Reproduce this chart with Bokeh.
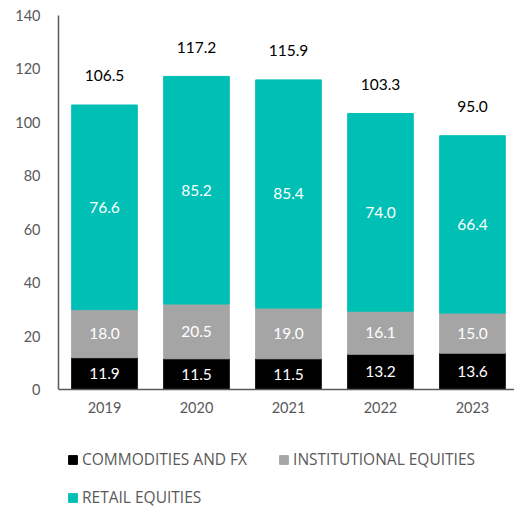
from bokeh.plotting import figure
from bokeh.models import ColumnDataSource, Legend, LegendItem
from bokeh.core.properties import value
from bokeh.embed import file_html
from bokeh.resources import INLINE

years = ["2019", "2020", "2021", "2022", "2023"]
commodities = [11.9, 11.5, 11.5, 13.2, 13.6]
institutional = [18.0, 20.5, 19.0, 16.1, 15.0]
retail = [76.6, 85.2, 85.4, 74.0, 66.4]
totals = [106.5, 117.2, 115.9, 103.3, 95.0]

FONT = "Lato"
LFONT = "Open Sans"
FS = "14.5px"
DFS = "15.5px"
LFS = "15.5px"
GRAY_TXT = "#595959"
C_COM = "#000000"
C_INS = "#A5A5A5"
C_RET = "#00BFB5"

x = list(range(len(years)))
b1 = [0.0] * len(x)
t1 = commodities
b2 = t1
t2 = [a + b for a, b in zip(t1, institutional)]
b3 = t2
t3 = [a + b for a, b in zip(t2, retail)]

src = ColumnDataSource(dict(
    x=x, b1=b1, t1=t1, b2=b2, t2=t2, b3=b3, t3=t3,
    m1=[(a + b) / 2 for a, b in zip(b1, t1)],
    m2=[(a + b) / 2 for a, b in zip(b2, t2)],
    m3=[(a + b) / 2 for a, b in zip(b3, t3)],
    l1=[f"{v:.1f}" for v in commodities],
    l2=[f"{v:.1f}" for v in institutional],
    l3=[f"{v:.1f}" for v in retail],
    tot=totals,
    lt=[f"{v:.1f}" for v in totals],
))

# frame spans from the top of the value axis down to the bottom of the page,
# so the legend (below the bars) can sit inside it
p = figure(width=514, height=508, x_range=(-0.5, 4.457), y_range=(-44.55, 140),
           output_backend="svg", toolbar_location=None,
           min_border_left=58, min_border_top=15, min_border_right=0, min_border_bottom=0)
p.outline_line_color = None
p.grid.visible = False

w = 0.713
r1 = p.vbar(x="x", bottom="b1", top="t1", width=w, color=C_COM, source=src)
r2 = p.vbar(x="x", bottom="b2", top="t2", width=w, color=C_INS, source=src)
r3 = p.vbar(x="x", bottom="b3", top="t3", width=w, color=C_RET, source=src)

for m, l in (("m1", "l1"), ("m2", "l2"), ("m3", "l3")):
    p.text(x="x", y=m, text=l, source=src, text_align="center", text_baseline="middle",
           text_color="white", text_font=value(FONT), text_font_size=DFS)
p.text(x="x", y="tot", text="lt", source=src, text_align="center", text_baseline="middle",
       y_offset=-29, text_color="black", text_font=value(FONT), text_font_size=DFS)

p.yaxis.ticker = [0, 20, 40, 60, 80, 100, 120, 140]
p.yaxis.bounds = (0, 140)
p.xaxis.ticker = x
p.xaxis.fixed_location = 0
p.xaxis.major_label_overrides = {i: y for i, y in zip(x, years)}
for ax in (p.xaxis[0], p.yaxis[0]):
    ax.major_tick_line_color = None
    ax.minor_tick_line_color = None
    ax.major_tick_out = 0
    ax.major_tick_in = 0
    ax.axis_line_color = "#595959"
    ax.axis_line_width = 1.5
    ax.major_label_text_font = FONT
    ax.major_label_text_font_size = FS
    ax.major_label_text_color = GRAY_TXT
p.yaxis.major_label_standoff = 18
p.xaxis.major_label_standoff = 13

common = dict(orientation="horizontal", border_line_color=None, background_fill_alpha=0,
              glyph_width=11, glyph_height=11, label_standoff=4, spacing=31,
              label_text_font=LFONT, label_text_font_size=LFS, label_text_color=GRAY_TXT,
              label_height=20, padding=0, margin=0)
leg1 = Legend(items=[LegendItem(label="COMMODITIES AND FX", renderers=[r1]),
                     LegendItem(label="INSTITUTIONAL EQUITIES", renderers=[r2])],
              location=(9, 38), **common)
leg2 = Legend(items=[LegendItem(label="RETAIL EQUITIES", renderers=[r3])],
              location=(9, 0), **common)
p.add_layout(leg1)
p.add_layout(leg2)

open("out.html", "w").write(file_html(p, INLINE))
